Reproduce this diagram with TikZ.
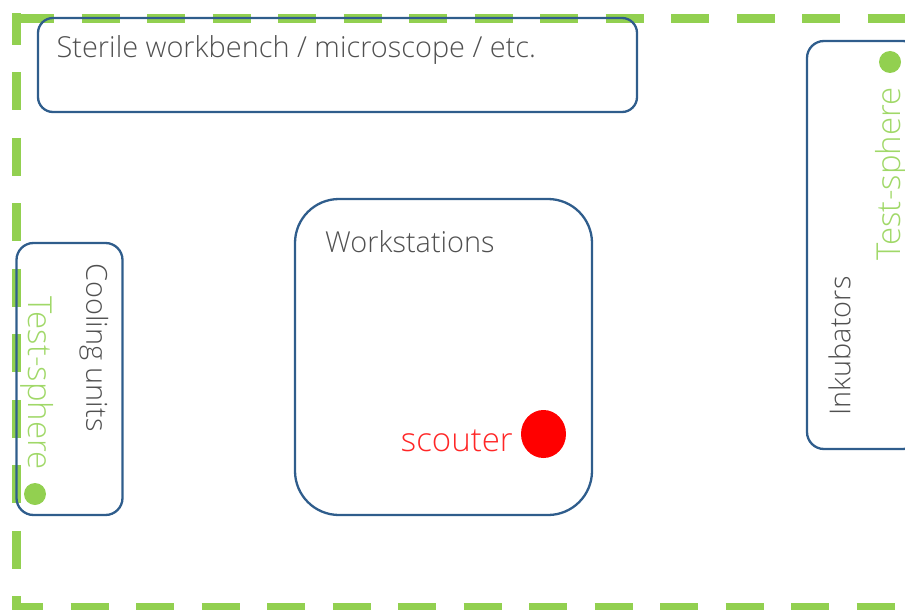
\documentclass[tikz,border=0pt]{standalone}
\usepackage{fontspec}
\usetikzlibrary{shapes.geometric}
\setmainfont{Open Sans Light}
\definecolor{dashgreen}{HTML}{92D050}
\definecolor{boxblue}{HTML}{2F5D8C}
\definecolor{txtgrey}{HTML}{505050}
\definecolor{lightgreen}{HTML}{A0D868}
\begin{document}
\begin{tikzpicture}[x=1pt,y=-1pt,
  zone/.style={draw=dashgreen,line width=9.5pt,dash pattern=on 38pt off 27.5pt},
  room/.style={draw=boxblue,line width=2.3pt},
  lab/.style={text=txtgrey,inner sep=0pt,font=\fontsize{28.9}{32}\selectfont},
  greenlab/.style={text=lightgreen,inner sep=0pt,font=\fontsize{33}{36}\selectfont},
  dot/.style={circle,fill=dashgreen,inner sep=0pt,minimum size=22pt}]
\useasboundingbox (0,0) rectangle (905,610);
\clip (0,0) rectangle (905,610);
\draw[zone] (16,18.3) -- (905,18.3);
\draw[zone,dash phase=6.6pt] (16.4,13.5) -- (16.4,610);
\draw[zone,dash phase=7pt] (12,607.7) -- (905,607.7);
\draw[room,rounded corners=15pt] (38,18) rectangle (637,112);
\draw[room,rounded corners=17pt] (807,41) rectangle (920,449);
\draw[room,rounded corners=17pt] (16.5,243) rectangle (122.5,515);
\draw[room,rounded corners=44pt] (295,199) rectangle (592,515);
\node[lab,anchor=west] (bench) at (56.5,49.5) {Sterile workbench / microscope / etc.};
\node[lab,anchor=west] (work) at (325,242) {Workstations};
\node[lab,rotate=-90] (cool) at (94,347.5) {Cooling units};
\node[lab,rotate=90] (ink) at (839.5,346) {Inkubators};
\node[greenlab,rotate=-90] (tsl) at (37,383) {Test-sphere};
\node[greenlab,rotate=90] (tsr) at (891.5,174) {Test-sphere};
\node[dot] (dl) at (35,494) {};
\node[dot] (dr) at (890,62) {};
\node[ellipse,fill=red,inner sep=0pt,minimum width=45pt,minimum height=48pt] (sc) at (543.5,434) {};
\node[text=red!85!white,inner sep=0pt,anchor=east,font=\fontsize{33}{36}\selectfont] (sct) at (513,441) {scouter};
\end{tikzpicture}
\end{document}
